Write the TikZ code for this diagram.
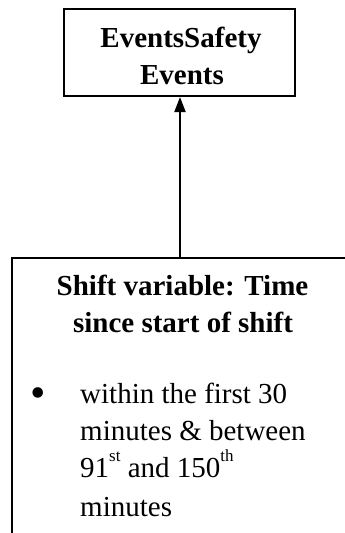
\documentclass[tikz,border=0pt]{standalone}
\usepackage{fontspec}
\setmainfont{Liberation Serif}
\usetikzlibrary{arrows.meta}
\newcommand{\ordsup}[1]{\raisebox{0.55em}{\fontsize{17}{17}\selectfont #1}}
\begin{document}
\begin{tikzpicture}[x=1pt,y=-1pt,
  frame/.style={draw=black,line width=2pt,inner sep=0pt},
  txt/.style={inner sep=0pt,font=\fontsize{29}{37}\selectfont},
  btxt/.style={txt,font=\fontsize{29}{37}\selectfont\bfseries},
  link/.style={line width=2pt,-{Triangle[width=11pt,length=15pt]}}]
\clip (0,0) rectangle (345,533);
\fill[white] (0,0) rectangle (345,533);

% upper box: outcome
\node[frame,minimum width=231pt,minimum height=87pt] (evt) at (179.5,52.5) {};
\node[btxt,anchor=base] (evt1) at (181,47) {EventsSafety};
\node[btxt,anchor=base] (evt2) at (182,84) {Events};

% lower box: shift variable (runs past the right and bottom edges)
\node[frame,minimum width=350pt,minimum height=300pt,anchor=north west] (shift) at (11,257) {};
\node[btxt,anchor=base] (sh1) at (182.5,295) {Shift variable: Time};
\node[btxt,anchor=base] (sh2) at (183,332) {since start of shift};

\node[inner sep=0pt,anchor=base,font=\fontsize{44}{44}\selectfont] (bul) at (38,407) {•};
\node[txt,anchor=base west] (b1) at (80,403) {within the first 30};
\node[txt,anchor=base west] (b2) at (80,440) {minutes \& between};
\node[txt,anchor=base west] (b3) at (80,477) {91\ordsup{st} and 150\ordsup{th}};
\node[txt,anchor=base west] (b4) at (80,516) {minutes};

% connector
\draw[link] (shift.north -| 180,0) -- (evt.south -| 180,0);
\end{tikzpicture}
\end{document}
